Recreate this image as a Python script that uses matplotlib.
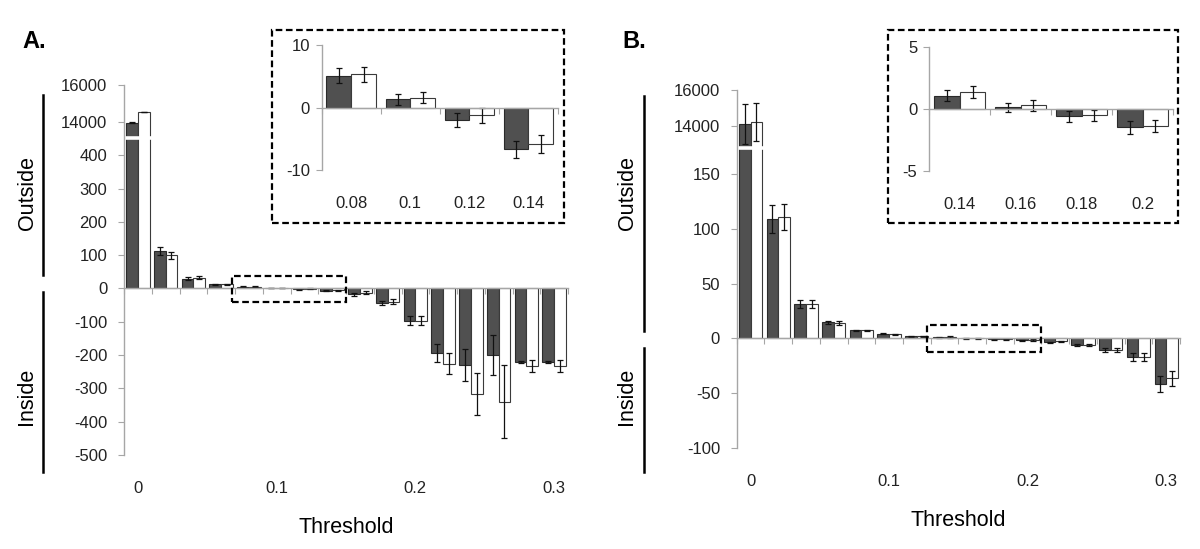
import matplotlib
matplotlib.use("Agg")
import matplotlib.pyplot as plt
import numpy as np
from matplotlib.lines import Line2D
from matplotlib.patches import Rectangle

plt.rcParams["font.family"] = ["Liberation Sans", "DejaVu Sans"]

# categories (threshold values)
THRESHOLDS = [0, 0.02, 0.04, 0.06, 0.08, 0.10, 0.12, 0.14,
              0.16, 0.18, 0.20, 0.22, 0.24, 0.26, 0.28, 0.30]
MAIN_TICKS = [0, 0.1, 0.2, 0.3]
MAIN_TICK_LABELS = ["0", "0.1", "0.2", "0.3"]

# panel A
A_DARK = [13950, 112, 29, 12, 5.1, 1.3, -2.0, -6.7,
          -18, -45, -97, -194, -230, -200, -221, -221]
A_DARK_ERR = [40, 12, 4, 2, 1.2, 0.9, 1.1, 1.4,
              4, 6, 14, 27, 49, 60, 2, 2]
A_WHITE = [14550, 100, 32, 12.5, 5.3, 1.6, -1.2, -5.8,
           -13, -40, -97, -226, -318, -340, -233, -233]
A_WHITE_ERR = [0, 10, 4, 2, 1.2, 0.9, 1.2, 1.4,
               4, 7, 14, 31, 63, 110, 18, 18]
A_YTICKS = [-500, -400, -300, -200, -100, 0, 100, 200, 300, 400, 14000, 16000]
A_INSET = (0.08, 0.14)
A_INSET_LABELS = ["0.08", "0.1", "0.12", "0.14"]
A_INSET_YTICKS = [-10, 0, 10]

# panel B
B_DARK = [14110, 109, 31.5, 14.8, 7.3, 4.5, 2.1, 1.07,
          0.13, -0.59, -1.5, -3.6, -6.0, -10.3, -17, -41.5]
B_DARK_ERR = [1100, 12.5, 3.8, 1.5, 0.8, 0.6, 0.4, 0.44,
              0.38, 0.43, 0.5, 0.6, 1.0, 1.8, 3.4, 7.5]
B_WHITE = [14220, 110.5, 31.5, 14, 7.3, 3.9, 2.1, 1.34,
           0.3, -0.51, -1.37, -2.7, -5.8, -10.3, -17, -36.4]
B_WHITE_ERR = [1080, 12, 3.8, 1.5, 0.8, 0.6, 0.4, 0.5,
               0.45, 0.43, 0.47, 0.5, 1.0, 1.8, 3.5, 6.8]
B_YTICKS = [-100, -50, 0, 50, 100, 150, 14000, 16000]
B_INSET = (0.14, 0.20)
B_INSET_LABELS = ["0.14", "0.16", "0.18", "0.2"]
B_INSET_YTICKS = [-5, 0, 5]

DARK = "#505050"
EDGE = "#2a2a2a"
AXIS = "#a6a6a6"
TEXT = "#222222"
W, H = 1200, 549


def rect(l, t, r, b):
    return [l / W, 1 - b / H, (r - l) / W, (b - t) / H]


def broken_scale(lo, hi, slope):
    """Linear up to lo, squeeze lo..hi, then compressed slope above hi."""
    big = 1e6
    xp = [-big, lo, hi, big]
    fp = [-big, lo, lo + 1, lo + 1 + (big - hi) * slope]
    fwd = lambda v: np.interp(v, xp, fp)
    inv = lambda u: np.interp(u, fp, xp)
    return fwd, inv


def draw_bars(ax, dark, dark_err, white, white_err):
    x = np.arange(len(dark))
    ax.bar(x - 0.21, dark, width=0.42, color=DARK, edgecolor=EDGE, lw=0.8, zorder=1)
    ax.bar(x + 0.21, white, width=0.42, color="white", edgecolor="#3a3a3a", lw=0.8, zorder=1)
    kw = dict(fmt="none", ecolor="#111111", elinewidth=0.9, capsize=2, capthick=0.9, zorder=2)
    ax.errorbar(x - 0.21, dark, yerr=dark_err, **kw)
    ax.errorbar(x + 0.21, white, yerr=white_err, **kw)


def style_axes(ax, n, yticks, ylim, cat_idx, cat_labels, pad):
    ax.set_facecolor("none")
    ax.set_xlim(-0.5, n - 0.5)
    ax.set_ylim(ylim)
    ax.spines[["top", "right"]].set_visible(False)
    ax.spines["bottom"].set_position(("data", 0))
    for s in ("left", "bottom"):
        ax.spines[s].set_color(AXIS)
        ax.spines[s].set_linewidth(1)
    ax.set_xticks(np.arange(n + 1) - 0.5)
    ax.set_xticklabels([])
    ax.tick_params(axis="x", length=4, color=AXIS, direction="out")
    ax.set_yticks(yticks)
    ax.set_yticklabels([f"{t:g}" for t in yticks])
    ax.tick_params(axis="y", length=4.5, color=AXIS, labelsize=12, pad=pad, labelcolor=TEXT)
    for i, lab in zip(cat_idx, cat_labels):
        ax.annotate(lab, (i, 0), xycoords=("data", "axes fraction"),
                    xytext=(0, -24), textcoords="offset points",
                    ha="center", va="center", fontsize=12, color=TEXT)


def panel(fig, main_rect, inset_rect, box_px, dark, dark_err, white, white_err,
          yticks, break_lo, break_hi, slope, inset_range, inset_labels, inset_yticks,
          inset_ylim, box_y):
    ax = fig.add_axes(rect(*main_rect))
    fwd, inv = broken_scale(break_lo, break_hi, slope)
    ax.set_yscale("function", functions=(fwd, inv))
    draw_bars(ax, dark, dark_err, white, white_err)
    main_idx = [THRESHOLDS.index(t) for t in MAIN_TICKS]
    style_axes(ax, len(THRESHOLDS), yticks, (yticks[0], yticks[-1]),
               main_idx, MAIN_TICK_LABELS, pad=7.5)
    # white gap marking the axis break
    ax.axhline((break_lo + break_hi) / 2, xmin=0.003, xmax=1.15 / len(THRESHOLDS),
               color="white", lw=2.6, zorder=2.3)
    ax.annotate("Threshold", (0.5, 0), xycoords="axes fraction",
                xytext=(0, -52), textcoords="offset points",
                ha="center", va="center", fontsize=15.5, color="black")

    # inset with the zoomed categories
    i0 = THRESHOLDS.index(inset_range[0])
    i1 = THRESHOLDS.index(inset_range[1]) + 1
    ax.add_patch(Rectangle((i0 - 0.62, box_y[0]), (i1 - i0) + 0.12, box_y[1] - box_y[0],
                           fill=False, ec="black", lw=1.6, ls=(0, (3, 1.6)), zorder=3))
    ins = fig.add_axes(rect(*inset_rect))
    draw_bars(ins, dark[i0:i1], dark_err[i0:i1], white[i0:i1], white_err[i0:i1])
    style_axes(ins, i1 - i0, inset_yticks, inset_ylim,
               range(i1 - i0), inset_labels, pad=4)
    l, t, r, b = box_px
    fig.patches.append(Rectangle((l / W, 1 - b / H), (r - l) / W, (b - t) / H,
                                 transform=fig.transFigure, fill=False, ec="black",
                                 lw=1.6, ls=(0, (3, 1.6))))
    return ax


def side_labels(fig, x_text, x_line, out_text, in_text, out_line, in_line):
    for txt, (t, b) in (("Outside", out_text), ("Inside", in_text)):
        fig.text(x_text / W, 1 - (t + b) / 2 / H, txt, rotation=90,
                 ha="center", va="center", fontsize=15.5)
    for t, b in (out_line, in_line):
        fig.add_artist(Line2D([x_line / W, x_line / W], [1 - t / H, 1 - b / H],
                              transform=fig.transFigure, color="black", lw=1.8))


fig = plt.figure(figsize=(12, 5.49), dpi=100)

panel(fig, (124, 85, 568, 455), (321.7, 45, 558, 170), (271.5, 29.5, 563.5, 222.5),
      A_DARK, A_DARK_ERR, A_WHITE, A_WHITE_ERR, A_YTICKS, 450, 13100, 0.05517,
      A_INSET, A_INSET_LABELS, A_INSET_YTICKS, (-10, 10), (-42, 38))
panel(fig, (736.7, 90, 1180, 448.3), (929.3, 46.7, 1173, 171), (888, 30, 1178, 223),
      B_DARK, B_DARK_ERR, B_WHITE, B_WHITE_ERR, B_YTICKS, 173, 12800, 0.01635,
      B_INSET, B_INSET_LABELS, B_INSET_YTICKS, (-5, 5), (-12.5, 12.7))

side_labels(fig, 27, 42.7, (155, 231), (367, 425), (95, 275), (291.7, 471.7))
side_labels(fig, 627, 644.3, (155, 231), (367, 425), (96, 331), (348, 471.7))

fig.text(34 / W, 1 - 41 / H, "A.", fontsize=17, fontweight="bold", ha="center", va="center")
fig.text(634 / W, 1 - 41 / H, "B.", fontsize=17, fontweight="bold", ha="center", va="center")

fig.savefig("out.png", dpi=100)
